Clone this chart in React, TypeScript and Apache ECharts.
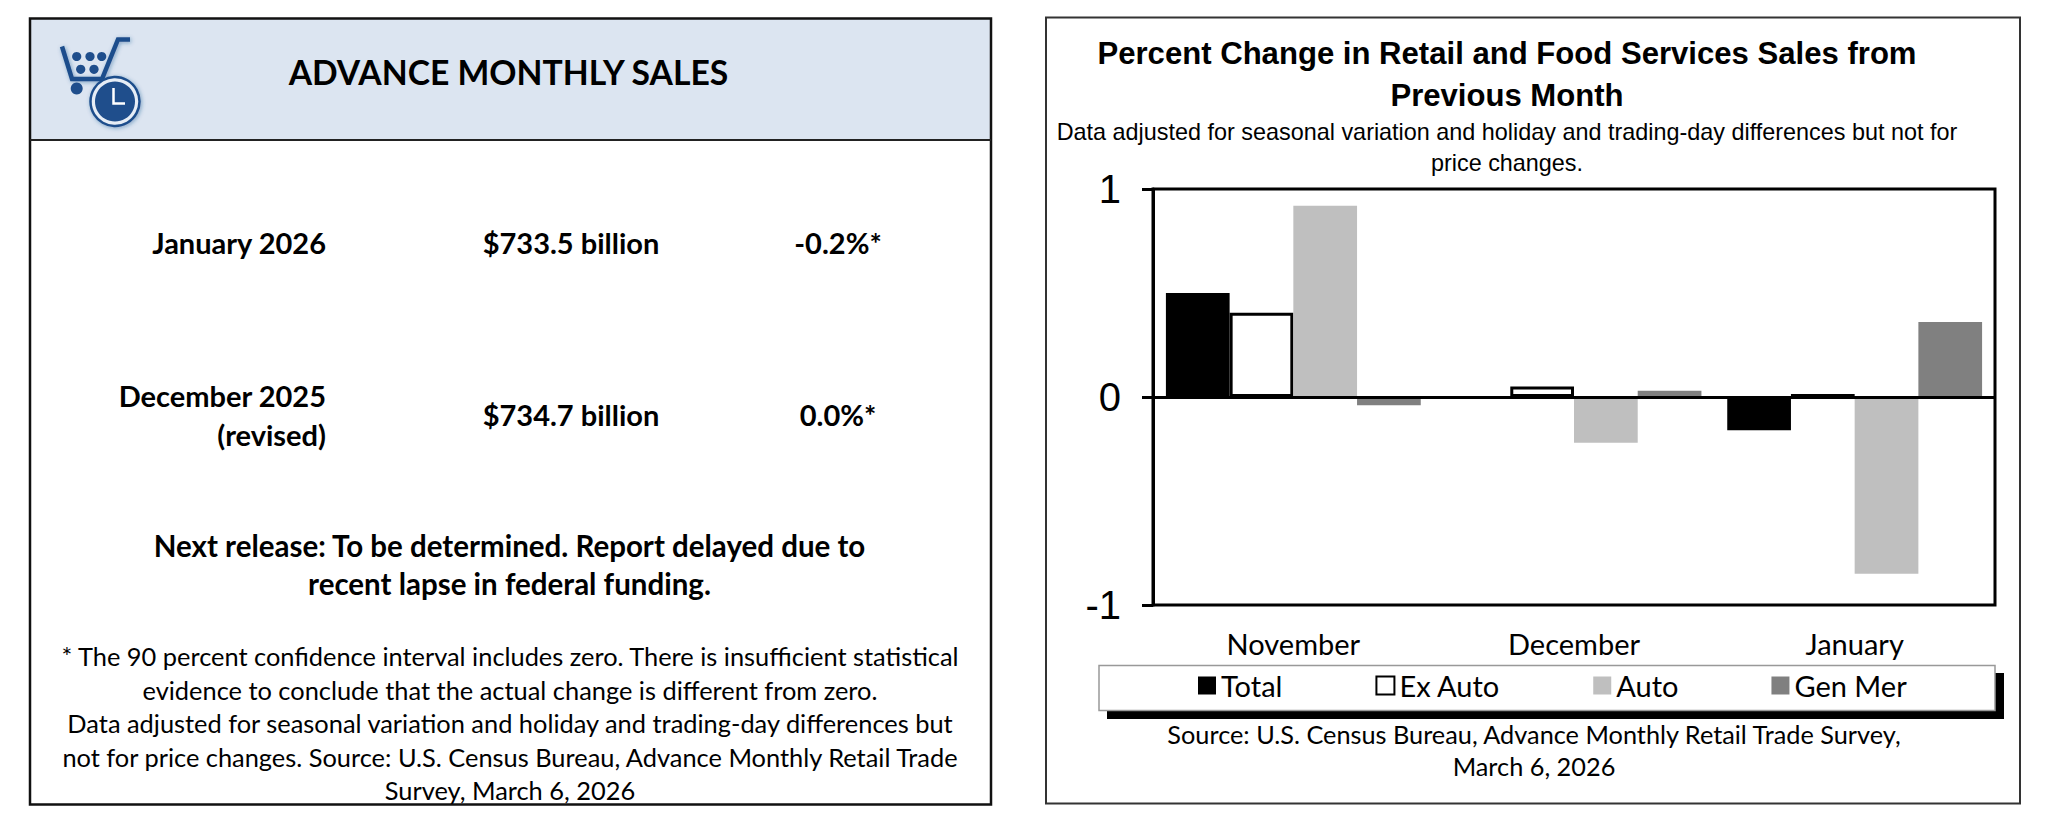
import React, { useEffect, useRef } from "react";
import * as echarts from "echarts";

const categories = ["November", "December", "January"];
const seriesNames = ["Total", "Ex Auto", "Auto", "Gen Mer"];
const totalValues = [0.5, 0, -0.16];
const exAutoValues = [0.405, 0.05, 0.015];
const autoValues = [0.92, -0.22, -0.85];
const genMerValues = [-0.04, 0.03, 0.36];
const yTicks = [-1, 0, 1];

const headerTitle = "ADVANCE MONTHLY SALES";
const rowLabels = ["January 2026", "December 2025", "(revised)"];
const rowAmounts = ["$733.5 billion", "$734.7 billion"];
const rowChanges = ["-0.2%*", "0.0%*"];
const nextRelease = [
  "Next release: To be determined. Report delayed due to",
  "recent lapse in federal funding.",
];
const footnotes = [
  "* The 90 percent confidence interval includes zero. There is insufficient statistical",
  "evidence to conclude that the actual change is different from zero.",
  "Data adjusted for seasonal variation and holiday and trading-day differences but",
  "not for price changes. Source: U.S. Census Bureau, Advance Monthly Retail Trade",
  "Survey, March 6, 2026",
];
const chartTitle = "Percent Change in Retail and Food Services Sales from\nPrevious Month";
const chartSubtitle = "Data adjusted for seasonal variation and holiday and trading-day differences but not for\nprice changes.";
const sourceLines = ["Source: U.S. Census Bureau, Advance Monthly Retail Trade Survey,", "March 6, 2026"];

const BODY = "Lato, 'Noto Sans', sans-serif";
const ARIAL = "'Liberation Sans', Arial, sans-serif";
const BLUE = "#1F4E8C";

function label(text: string, x: number, y: number, size: number, weight: string, align: string, z = 5) {
  return {
    type: "text",
    z,
    style: {
      text,
      x,
      y,
      fontFamily: BODY,
      fontSize: size,
      fontWeight: weight,
      fill: "#000",
      textAlign: align,
      textVerticalAlign: "middle",
    },
  };
}

function logo() {
  const shadow = { shadowBlur: 4, shadowColor: "rgba(31,78,140,0.45)", shadowOffsetX: 1, shadowOffsetY: 1 };
  const ball = (cx: number, cy: number, r: number) => ({
    type: "circle",
    z: 4,
    shape: { cx, cy, r },
    style: { fill: BLUE },
  });
  return [
    {
      type: "polyline",
      z: 4,
      shape: { points: [[130, 39.5], [118, 39.5], [102, 79], [72, 79], [62, 46.5]] },
      style: { stroke: BLUE, lineWidth: 4.5, fill: "none", ...shadow },
    },
    ball(76.7, 88.5, 6),
    ball(76.7, 56.5, 4.6),
    ball(90, 56.5, 4.6),
    ball(101.7, 56.5, 4.6),
    ball(80.7, 69.3, 4.6),
    ball(94, 69.3, 4.6),
    {
      type: "circle",
      z: 4,
      shape: { cx: 115, cy: 101.5, r: 24.5 },
      style: { fill: "#E6EDF6", stroke: BLUE, lineWidth: 2.5, ...shadow },
    },
    { type: "circle", z: 4, shape: { cx: 115, cy: 101.5, r: 20 }, style: { fill: BLUE } },
    {
      type: "polyline",
      z: 4,
      shape: { points: [[113.5, 88], [113.5, 103.5], [125, 103.5]] },
      style: { stroke: "#fff", lineWidth: 2.5, fill: "none" },
    },
  ];
}

function leftPanel() {
  return [
    { type: "rect", z: 1, shape: { x: 30, y: 18.5, width: 961, height: 121 }, style: { fill: "#DCE5F1" } },
    { type: "rect", z: 2, shape: { x: 30, y: 18.5, width: 961, height: 786 }, style: { fill: "none", stroke: "#111", lineWidth: 2.5 } },
    { type: "line", z: 2, shape: { x1: 30, y1: 140, x2: 991, y2: 140 }, style: { stroke: "#222", lineWidth: 2 } },
    ...logo(),
    label(headerTitle, 508.5, 72, 33.7, "bold", "center"),
    label(rowLabels[0], 326, 242, 29, "bold", "right"),
    label(rowAmounts[0], 571, 242, 29, "bold", "center"),
    label(rowChanges[0], 838, 242, 29, "bold", "center"),
    label(rowLabels[1], 326, 395.5, 29, "bold", "right"),
    label(rowLabels[2], 326, 434, 29, "bold", "right"),
    label(rowAmounts[1], 571, 414, 29, "bold", "center"),
    label(rowChanges[1], 838, 414, 29, "bold", "center"),
    ...nextRelease.map((t, i) => label(t, 509.5, 545 + i * 38, 29.5, "bold", "center")),
    ...footnotes.map((t, i) => label(t, 510, 656 + i * 33.5, 25.4, "normal", "center")),
  ];
}

function rightPanel() {
  return [
    { type: "rect", z: 1, shape: { x: 1046, y: 17.5, width: 974, height: 786 }, style: { fill: "none", stroke: "#333", lineWidth: 2 } },
    { type: "rect", z: 1, shape: { x: 1107, y: 673, width: 897, height: 46 }, style: { fill: "#000" } },
    { type: "rect", z: 2, shape: { x: 1099, y: 665.5, width: 896, height: 45 }, style: { fill: "#fff", stroke: "#999", lineWidth: 1.5 } },
    ...sourceLines.map((t, i) => label(t, 1534, 734 + i * 32, 25.3, "normal", "center")),
  ];
}

export default function App() {
  const ref = useRef<HTMLDivElement>(null);
  useEffect(() => {
    const chart = echarts.init(ref.current!, null, { renderer: "svg" });
    const bar = (i: number, data: number[], itemStyle: any, extra: any = {}) => ({
      type: "bar",
      name: seriesNames[i],
      data,
      barGap: "0%",
      barCategoryGap: "9.2%",
      itemStyle,
      ...extra,
    });
    chart.setOption({
      animation: false,
      backgroundColor: "#fff",
      title: [
        {
          text: chartTitle,
          left: 1502,
          top: 27,
          textAlign: "center",
          textStyle: { fontFamily: ARIAL, fontWeight: "bold", fontSize: 31.1, lineHeight: 42, color: "#000" },
        },
        {
          text: chartSubtitle,
          left: 1502,
          top: 111,
          textAlign: "center",
          textStyle: { fontFamily: ARIAL, fontWeight: "normal", fontSize: 23.4, lineHeight: 31, color: "#000" },
        },
      ],
      legend: {
        data: seriesNames,
        left: 1193,
        top: 666,
        itemWidth: 18,
        itemHeight: 18,
        itemGap: 93,
        icon: "rect",
        selectedMode: false,
        z: 6,
        textStyle: { fontFamily: BODY, fontSize: 29, color: "#000" },
      },
      grid: {
        show: true,
        left: 1153,
        right: 53,
        top: 189,
        height: 416,
        containLabel: false,
        backgroundColor: "transparent",
        borderColor: "#000",
        borderWidth: 3,
      },
      xAxis: {
        type: "category",
        data: categories,
        position: "bottom",
        axisLine: { show: false, onZero: false },
        axisTick: { show: false },
        axisLabel: { margin: 24, fontFamily: BODY, fontSize: 29, color: "#000" },
      },
      yAxis: {
        type: "value",
        min: yTicks[0],
        max: yTicks[2],
        interval: 1,
        splitLine: { show: false },
        axisLine: { show: true, lineStyle: { color: "#000", width: 3 } },
        axisTick: { show: true, length: 11, lineStyle: { color: "#000", width: 3 } },
        axisLabel: { margin: 32, fontFamily: ARIAL, fontSize: 40, color: "#000" },
      },
      series: [
        bar(0, totalValues, { color: "#000" }),
        bar(1, exAutoValues, { color: "#fff", borderColor: "#000", borderWidth: 3 }),
        bar(2, autoValues, { color: "#BFBFBF" }),
        bar(3, genMerValues, { color: "#808080" }, {
          markLine: {
            silent: true,
            symbol: "none",
            label: { show: false },
            lineStyle: { color: "#000", width: 3, type: "solid" },
            data: [{ yAxis: 0 }],
          },
        }),
      ],
      graphic: { elements: [...leftPanel(), ...rightPanel()] },
    });
    return () => chart.dispose();
  }, []);
  return <div ref={ref} style={{ position: "absolute", left: 0, top: 0, width: 2048, height: 824 }} />;
}
